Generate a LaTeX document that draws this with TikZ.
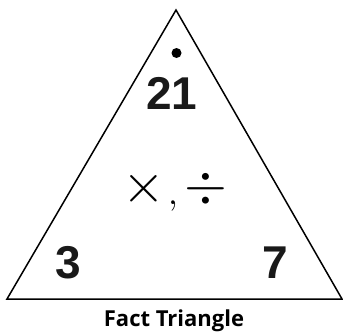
\documentclass[tikz,border=0pt]{standalone}
\usepackage{fontspec}
\usepackage{graphicx}
\usepackage{tikz}
\usetikzlibrary{positioning}

\newfontfamily\numfont{Liberation Sans}
\newfontfamily\capfont{Open Sans}

\begin{document}
\begin{tikzpicture}[
    x=1pt, y=-1pt,
    num/.style={font=\numfont\bfseries\fontsize{46}{46}\selectfont, inner sep=0pt, text=black!90},
    ops/.style={font=\fontsize{10}{10}\selectfont, inner sep=0pt, anchor=base},
    edge/.style={draw, line width=1.5pt, line join=miter}
]
\useasboundingbox (0,0) rectangle (343,332);

\coordinate (apex) at (176,10);
\coordinate (left) at (7,299);
\coordinate (right) at (342,299);

\path[edge] (apex) -- (left) -- (right) -- cycle;

\fill (176.5,53) circle (5pt);

\node[num] (prod) at (172,93.5) {21};
\node[num] (fa) at (68,263) {3};
\node[num] (fb) at (275,262.5) {7};

\node[ops] (sign) at (175,202) {\scalebox{5.5}{$\times$}\hspace{3pt}\raisebox{-2pt}{\scalebox{3.5}{,}}\hspace{7pt}\scalebox{5.5}{$\div$}};

\node[font=\capfont\bfseries\fontsize{22}{22}\selectfont, inner sep=0pt, anchor=base] (title) at (174,326) {Fact Triangle};

\end{tikzpicture}
\end{document}
